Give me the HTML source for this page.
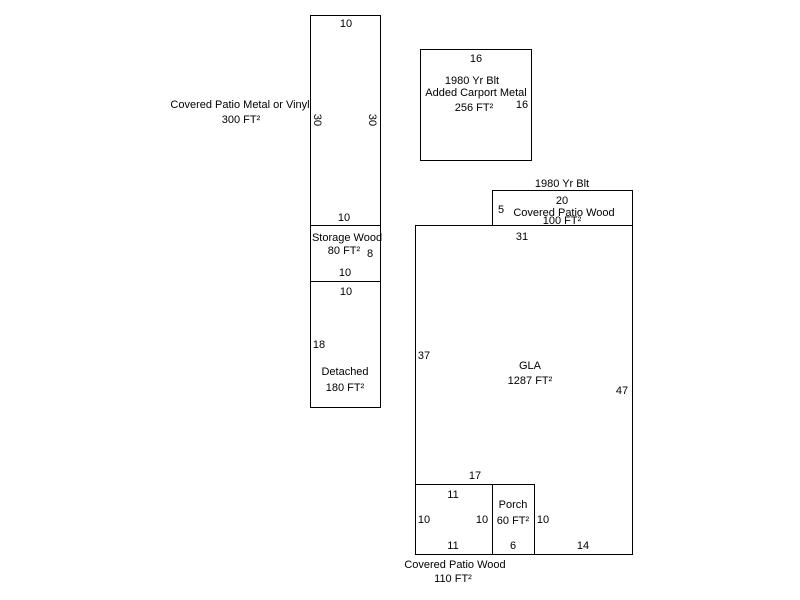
<!DOCTYPE html>
<html><head><meta charset="utf-8"><style>html,body{margin:0;padding:0;background:#fff;}svg{display:block}</style></head>
<body>
<svg width="800" height="600" xmlns="http://www.w3.org/2000/svg" font-family="Liberation Sans, sans-serif" font-size="11" fill="#000">
<g fill="none" stroke="#000" stroke-width="1">
<rect x="310.5" y="15.5" width="70" height="210"/>
<rect x="310.5" y="225.5" width="70" height="56"/>
<rect x="310.5" y="281.5" width="70" height="126"/>
<rect x="420.5" y="49.5" width="111" height="111"/>
<rect x="492.5" y="190.5" width="140" height="35"/>
<rect x="415.5" y="225.5" width="217" height="329"/>
<rect x="415.5" y="484.5" width="77" height="70"/>
<rect x="492.5" y="484.5" width="42" height="70"/>
</g>
<g text-anchor="middle">
<text x="346" y="27">10</text>
<text x="240" y="108">Covered Patio Metal or Vinyl</text>
<text x="241" y="123">300 FT²</text>
<text transform="translate(314,120) rotate(90)">30</text>
<text transform="translate(369,120) rotate(90)">30</text>
<text x="344" y="221">10</text>
<text x="347" y="241">Storage Wood</text>
<text x="344" y="254">80 FT²</text>
<text x="370" y="257">8</text>
<text x="345" y="276">10</text>
<text x="346" y="295">10</text>
<text x="319" y="348">18</text>
<text x="345" y="375">Detached</text>
<text x="345" y="391">180 FT²</text>
<text x="476" y="62">16</text>
<text x="472" y="84">1980 Yr Blt</text>
<text x="476" y="96">Added Carport Metal</text>
<text x="474" y="111">256 FT²</text>
<text x="522" y="108">16</text>
<text x="562" y="187">1980 Yr Blt</text>
<text x="562" y="204">20</text>
<text x="501" y="213">5</text>
<text x="564" y="216">Covered Patio Wood</text>
<text x="562" y="224">100 FT²</text>
<text x="522" y="240">31</text>
<text x="424" y="359">37</text>
<text x="530" y="369">GLA</text>
<text x="530" y="384">1287 FT²</text>
<text x="622" y="394">47</text>
<text x="475" y="479">17</text>
<text x="453" y="498">11</text>
<text x="424" y="523">10</text>
<text x="482" y="523">10</text>
<text x="453" y="549">11</text>
<text x="513" y="508">Porch</text>
<text x="513" y="524">60 FT²</text>
<text x="543" y="523">10</text>
<text x="513" y="549">6</text>
<text x="583" y="549">14</text>
<text x="455" y="568">Covered Patio Wood</text>
<text x="453" y="582">110 FT²</text>
</g>
</svg>
</body></html>
